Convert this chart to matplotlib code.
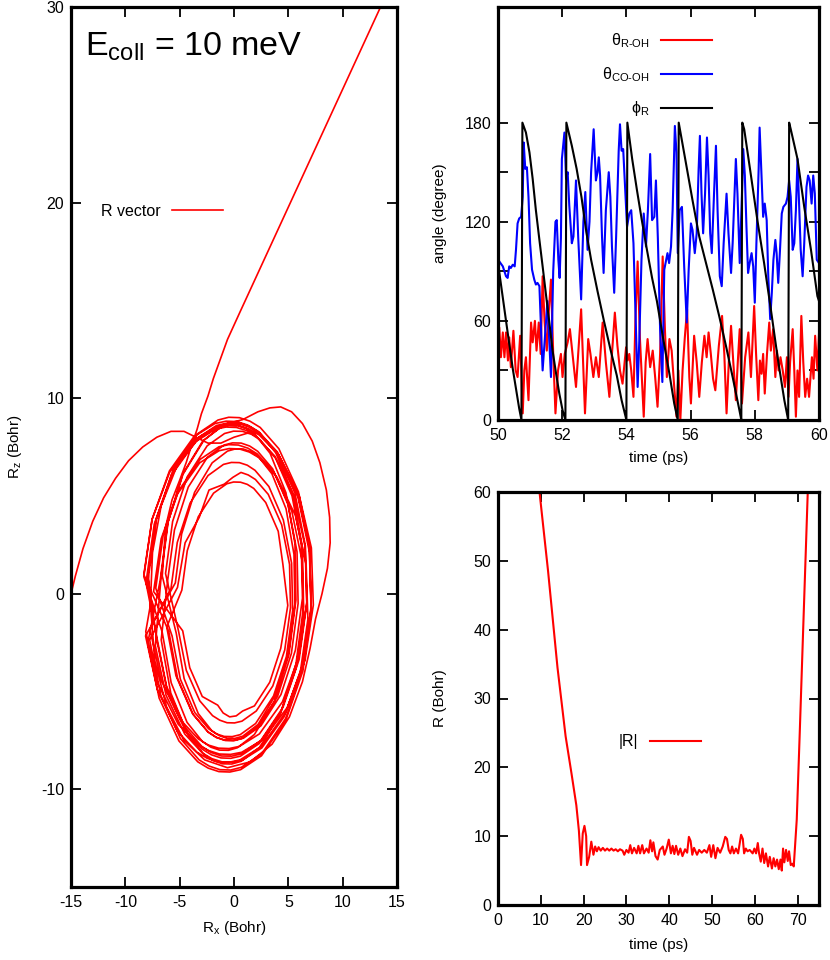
import numpy as np
import matplotlib.pyplot as plt

plt.rcParams['font.family'] = ['Liberation Sans', 'DejaVu Sans']
plt.rcParams['mathtext.fontset'] = 'custom'
plt.rcParams['mathtext.rm'] = 'Liberation Sans'
plt.rcParams['mathtext.it'] = 'Liberation Sans:italic'
plt.rcParams['mathtext.sf'] = 'Liberation Sans'
plt.rcParams['axes.unicode_minus'] = False

# ---- R vector trajectory (Rx, Rz) in Bohr ----
entry_path = np.array([(-15.3, -0.7), (-14.6, 0.9), (-13.9, 2.3), (-13.0, 3.7), (-12.0, 4.9),
                       (-10.9, 5.9), (-9.7, 6.8), (-8.4, 7.5), (-7.1, 8.0), (-5.8, 8.3),
                       (-4.6, 8.3), (-3.5, 8.0), (-2.4, 7.7), (-1.2, 7.7), (0.0, 8.0), (1.2, 8.2)])
first_lap = np.array([(2.33, 8.23), (3.94, 7.21), (5.61, 5.13), (6.57, 2.45), (6.7, -0.5),
                      (5.99, -3.37), (4.51, -5.81), (2.46, -7.51), (0.69, -8.19), (-0.22, -8.31),
                      (-1.15, -8.3), (-2.06, -8.13), (-2.93, -7.83), (-4.54, -6.81),
                      (-6.21, -4.73), (-7.17, -2.05)])
# each lap listed from its top point, clockwise
loops = [
    np.array([(0.39, 8.7), (1.38, 8.52), (2.33, 8.2), (4.07, 7.13), (5.89, 4.94), (6.94, 2.13),
              (7.1, -0.96), (6.34, -3.95), (4.75, -6.5), (2.53, -8.29), (0.61, -9.0),
              (-0.38, -9.12), (-1.39, -9.1), (-2.38, -8.92), (-3.33, -8.6), (-5.07, -7.53),
              (-6.89, -5.34), (-7.94, -2.53), (-8.1, 0.56), (-7.34, 3.55), (-5.75, 6.1),
              (-3.53, 7.89), (-1.61, 8.6), (-0.62, 8.72)]),
    np.array([(0.67, 8.7), (1.52, 8.53), (2.35, 8.23), (3.85, 7.2), (5.42, 5.08), (6.3, 2.36),
              (6.4, -0.66), (5.7, -3.6), (4.3, -6.1), (2.35, -7.86), (0.67, -8.57),
              (-0.2, -8.71), (-1.07, -8.7), (-1.92, -8.53), (-2.75, -8.23), (-4.25, -7.2),
              (-5.82, -5.08), (-6.7, -2.36), (-6.8, 0.66), (-6.1, 3.6), (-4.7, 6.1),
              (-2.75, 7.86), (-1.07, 8.57), (-0.2, 8.71)]),
    np.array([(0.66, 7.7), (1.44, 7.55), (2.18, 7.28), (3.56, 6.38), (4.99, 4.53), (5.8, 2.14),
              (5.9, -0.5), (5.28, -3.06), (4.01, -5.25), (2.24, -6.78), (0.72, -7.4),
              (-0.06, -7.51), (-0.86, -7.5), (-1.64, -7.35), (-2.38, -7.08), (-3.76, -6.18),
              (-5.19, -4.33), (-6.0, -1.94), (-6.1, 0.7), (-5.48, 3.26), (-4.21, 5.45),
              (-2.44, 6.98), (-0.92, 7.6), (-0.14, 7.71)]),
    np.array([(0.34, 8.6), (1.35, 8.42), (2.33, 8.11), (4.13, 7.08), (6.01, 5.0), (7.12, 2.34),
              (7.3, -0.58), (6.54, -3.4), (4.93, -5.8), (2.67, -7.46), (0.71, -8.11),
              (-0.31, -8.22), (-1.34, -8.2), (-2.35, -8.02), (-3.33, -7.71), (-5.13, -6.68),
              (-7.01, -4.6), (-8.12, -1.94), (-8.3, 0.98), (-7.54, 3.8), (-5.93, 6.2),
              (-3.67, 7.86), (-1.71, 8.51), (-0.69, 8.62)]),
    np.array([(0.8, 8.9), (2.2, 9.3), (3.3, 9.5), (4.3, 9.55), (5.3, 9.3), (6.3, 8.7), (7.2, 7.8),
              (7.9, 6.7), (8.5, 5.3), (8.8, 3.9), (8.85, 2.6), (8.6, 1.3), (8.1, 0.0),
              (7.5, -1.3), (7.0, -2.8), (6.3, -4.5), (5.1, -6.3), (3.5, -7.7), (1.5, -8.6),
              (-0.6, -8.9), (-2.7, -8.5), (-4.6, -7.5), (-6.2, -5.8), (-7.3, -3.4),
              (-7.7, -0.6), (-7.5, 2.1), (-6.7, 4.5), (-5.2, 6.6), (-3.3, 7.9), (-1.3, 8.6)]),
    np.array([(0.22, 8.5), (1.17, 8.34), (2.08, 8.03), (3.76, 7.03), (5.52, 5.01), (6.54, 2.41),
              (6.7, -0.43), (5.98, -3.19), (4.46, -5.53), (2.34, -7.17), (0.5, -7.81),
              (-0.45, -7.92), (-1.42, -7.9), (-2.37, -7.74), (-3.28, -7.43), (-4.96, -6.43),
              (-6.72, -4.41), (-7.74, -1.81), (-7.9, 1.03), (-7.18, 3.79), (-5.66, 6.13),
              (-3.54, 7.77), (-1.7, 8.41), (-0.75, 8.52)]),
    np.array([(0.5, 6.7), (1.22, 6.57), (1.93, 6.31), (3.21, 5.48), (4.54, 3.77), (5.3, 1.56),
              (5.4, -0.86), (4.82, -3.22), (3.64, -5.23), (1.99, -6.64), (0.57, -7.21),
              (-0.16, -7.31), (-0.9, -7.3), (-1.62, -7.17), (-2.33, -6.91), (-3.61, -6.08),
              (-4.94, -4.37), (-5.7, -2.16), (-5.8, 0.26), (-5.22, 2.62), (-4.04, 4.63),
              (-2.39, 6.04), (-0.97, 6.61), (-0.24, 6.71)]),
    np.array([(0.4, 7.6), (1.28, 7.44), (2.13, 7.15), (3.69, 6.19), (5.32, 4.22), (6.26, 1.7),
              (6.4, -1.08), (5.72, -3.78), (4.3, -6.06), (2.31, -7.67), (0.59, -8.31),
              (-0.3, -8.42), (-1.2, -8.4), (-2.08, -8.24), (-2.93, -7.95), (-4.49, -6.99),
              (-6.12, -5.02), (-7.06, -2.5), (-7.2, 0.28), (-6.52, 2.98), (-5.1, 5.26),
              (-3.11, 6.87), (-1.39, 7.51), (-0.5, 7.62)]),
    np.array([(0.5, 9.0), (1.47, 8.82), (2.41, 8.5), (4.13, 7.41), (5.93, 5.21), (6.96, 2.37),
              (7.1, -0.75), (6.34, -3.79), (4.77, -6.37), (2.57, -8.17), (0.67, -8.88),
              (-0.31, -9.02), (-1.3, -9.0), (-2.27, -8.82), (-3.21, -8.5), (-4.93, -7.41),
              (-6.73, -5.21), (-7.76, -2.37), (-7.9, 0.75), (-7.14, 3.79), (-5.57, 6.37),
              (-3.37, 8.17), (-1.47, 8.88), (-0.49, 9.02)]),
    np.array([(0.64, 6.2), (1.31, 6.07), (1.97, 5.84), (3.15, 5.08), (4.39, 3.52), (5.11, 1.5),
              (5.2, -0.72), (4.67, -2.88), (3.57, -4.72), (2.05, -6.0), (0.73, -6.52),
              (0.05, -6.61), (-0.64, -6.6), (-1.31, -6.47), (-1.97, -6.24), (-3.15, -5.48),
              (-4.39, -3.92), (-5.11, -1.9), (-5.2, 0.32), (-4.5, 2.6), (-3.2, 3.9),
              (-2.3, 5.3), (-0.9, 5.6), (-0.1, 5.95)]),
    np.array([(0.79, 8.3), (1.61, 8.15), (2.39, 7.87), (3.83, 6.92), (5.34, 5.0), (6.19, 2.51),
              (6.3, -0.23), (5.65, -2.89), (4.32, -5.16), (2.47, -6.76), (0.87, -7.39),
              (0.05, -7.51), (-0.79, -7.5), (-1.61, -7.35), (-2.39, -7.07), (-3.83, -6.12),
              (-5.34, -4.2), (-6.19, -1.71), (-6.3, 1.03), (-5.65, 3.69), (-4.32, 5.96),
              (-2.47, 7.56), (-0.87, 8.19), (-0.05, 8.31)]),
    np.array([(0.6, 5.7), (1.22, 5.59), (1.82, 5.38), (2.92, 4.66), (4.07, 3.19), (4.5, 1.5),
              (4.95, -0.6), (4.3, -2.8), (3.29, -4.53), (1.88, -5.74), (0.8, -6.0),
              (0.2, -6.25), (-0.4, -6.3), (-1.0, -6.1), (-1.5, -5.7), (-2.92, -5.26),
              (-4.07, -3.79), (-4.72, -1.9), (-4.8, 0.18), (-4.3, 2.2), (-3.29, 3.93),
              (-1.88, 5.14), (-0.66, 5.62), (-0.04, 5.71)]),
    np.array([(0.5, 7.4), (1.42, 7.24), (2.31, 6.95), (3.94, 5.97), (5.65, 4.0), (6.64, 1.47),
              (6.8, -1.31), (6.1, -4.01), (4.63, -6.28), (2.56, -7.89), (0.77, -8.51),
              (-0.16, -8.62), (-1.1, -8.6), (-2.02, -8.44), (-2.91, -8.15), (-4.54, -7.17),
              (-6.25, -5.2), (-7.24, -2.67), (-7.4, 0.11), (-6.7, 2.81), (-5.23, 5.08),
              (-3.16, 6.69), (-1.37, 7.31), (-0.44, 7.42)]),
    np.array([(0.33, 8.6), (1.13, 8.45), (1.91, 8.16), (3.32, 7.18), (4.78, 5.16), (5.61, 2.56),
              (5.7, -0.32), (5.05, -3.12), (3.72, -5.52), (1.88, -7.2), (0.31, -7.88),
              (-0.51, -8.01), (-1.33, -8.0), (-2.13, -7.85), (-2.91, -7.56), (-4.32, -6.58),
              (-5.78, -4.56), (-6.61, -1.96), (-6.7, 0.92), (-6.05, 3.72), (-4.72, 6.12),
              (-2.88, 7.8), (-1.31, 8.48), (-0.49, 8.61)]),
    np.array([(0.27, 8.8), (1.27, 8.62), (2.23, 8.3), (4.0, 7.24), (5.86, 5.1), (6.94, 2.36),
              (7.1, -0.67), (6.34, -3.6), (4.74, -6.08), (2.5, -7.82), (0.55, -8.5),
              (-0.45, -8.62), (-1.47, -8.6), (-2.47, -8.42), (-3.43, -8.1), (-5.2, -7.04),
              (-7.06, -4.9), (-8.14, -2.16), (-8.3, 0.87), (-7.54, 3.8), (-5.94, 6.28),
              (-3.7, 8.02), (-1.75, 8.7), (-0.73, 8.82)]),
    np.array([(0.84, 7.4), (1.55, 7.26), (2.24, 7.01), (3.49, 6.13), (4.79, 4.34), (5.52, 2.01),
              (5.6, -0.55), (5.02, -3.05), (3.83, -5.18), (2.21, -6.69), (0.8, -7.29),
              (0.09, -7.4), (-0.64, -7.4), (-1.35, -7.26), (-2.04, -7.01), (-3.29, -6.13),
              (-4.59, -4.34), (-5.32, -2.01), (-5.4, 0.55), (-4.82, 3.05), (-3.63, 5.18),
              (-2.01, 6.69), (-0.6, 7.29), (0.11, 7.4)]),
]
exit_path = np.array([(-6.6, 0.9), (-6.3, 3.4), (-5.7, 4.8), (-5.0, 5.8), (-4.4, 6.7),
                      (-3.9, 7.6), (-3.4, 8.4), (-3.0, 9.2), (-2.4, 10.1), (-1.9, 11.0),
                      (-0.6, 13.0), (0.55, 14.4), (13.9, 30.5)])

# ---- angles vs time (ps, degree) ----
theta_r_oh = np.array([
    (50.0, 40), (50.04, 56), (50.09, 38), (50.15, 53), (50.2, 38), (50.25, 53), (50.31, 36),
    (50.35, 50), (50.4, 32), (50.48, 54), (50.55, 30), (50.61, 26), (50.69, 51), (50.77, 4),
    (50.82, 30), (50.87, 38), (50.95, 12), (51.03, 59), (51.08, 47), (51.15, 60), (51.2, 42),
    (51.27, 59), (51.33, 40), (51.39, 87), (51.45, 60), (51.52, 42), (51.58, 65), (51.65, 85),
    (51.72, 40), (51.79, 4), (51.87, 30), (51.96, 40), (52.01, 26), (52.08, 40), (52.17, 47),
    (52.24, 55), (52.32, 40), (52.43, 20), (52.53, 50), (52.59, 67), (52.65, 35), (52.71, 4),
    (52.81, 49), (52.88, 40), (52.97, 26), (53.05, 38), (53.14, 26), (53.26, 59), (53.36, 35),
    (53.47, 14), (53.55, 40), (53.64, 65), (53.72, 45), (53.8, 30), (53.88, 22), (53.99, 44),
    (54.04, 36), (54.09, 40), (54.15, 30), (54.22, 14), (54.28, 60), (54.35, 96), (54.42, 50),
    (54.54, 2), (54.6, 35), (54.66, 49), (54.74, 32), (54.82, 42), (54.9, 25), (54.97, 8),
    (55.05, 40), (55.13, 99), (55.2, 55), (55.26, 26), (55.34, 49), (55.41, 42), (55.49, 20),
    (55.56, 2), (55.62, 30), (55.68, 0), (55.75, 30), (55.82, 50), (55.89, 67), (55.96, 26),
    (56.01, 10), (56.11, 51), (56.19, 35), (56.27, 14), (56.35, 35), (56.43, 51), (56.5, 38),
    (56.56, 53), (56.63, 40), (56.7, 25), (56.77, 18), (56.88, 45), (56.98, 63), (57.05, 40),
    (57.12, 4), (57.19, 35), (57.26, 57), (57.33, 35), (57.41, 12), (57.47, 35), (57.53, 55),
    (57.6, 10), (57.7, 38), (57.8, 53), (57.88, 26), (57.98, 69), (58.04, 40), (58.11, 12),
    (58.16, 36), (58.21, 28), (58.26, 40), (58.31, 16), (58.38, 40), (58.45, 59), (58.5, 42),
    (58.57, 55), (58.64, 26), (58.69, 42), (58.74, 30), (58.8, 38), (58.87, 30), (58.94, 20),
    (59.0, 38), (59.05, 14), (59.1, 35), (59.18, 55), (59.23, 30), (59.28, 2), (59.33, 30),
    (59.38, 14), (59.45, 63), (59.51, 35), (59.57, 14), (59.63, 25), (59.69, 14), (59.78, 38),
    (59.83, 25), (59.88, 51), (59.95, 30), (60.0, 52)])

theta_co_oh = np.array([
    (50.0, 97), (50.04, 96), (50.15, 93), (50.25, 87), (50.3, 86), (50.35, 93), (50.4, 92),
    (50.46, 94), (50.52, 93), (50.56, 103), (50.61, 119), (50.66, 122), (50.72, 123),
    (50.77, 135), (50.8, 168), (50.85, 152), (50.9, 153), (50.95, 135), (51.0, 107),
    (51.06, 91), (51.13, 85), (51.18, 82), (51.23, 83), (51.29, 81), (51.39, 30), (51.54, 72),
    (51.65, 26), (51.72, 90), (51.79, 120), (51.83, 121), (51.88, 97), (51.92, 86),
    (51.96, 110), (51.99, 158), (52.07, 174), (52.12, 146), (52.17, 150), (52.22, 130),
    (52.3, 107), (52.35, 111), (52.43, 145), (52.5, 110), (52.59, 73), (52.66, 120),
    (52.72, 138), (52.79, 103), (52.85, 120), (52.9, 150), (52.98, 176), (53.05, 145),
    (53.1, 150), (53.14, 159), (53.18, 148), (53.24, 111), (53.29, 89), (53.36, 127),
    (53.45, 150), (53.5, 135), (53.55, 105), (53.62, 77), (53.68, 111), (53.76, 163),
    (53.8, 179), (53.85, 163), (53.9, 164), (53.97, 137), (54.02, 117), (54.09, 125),
    (54.15, 127), (54.22, 107), (54.28, 67), (54.35, 20), (54.4, 47), (54.47, 97),
    (54.54, 125), (54.61, 105), (54.67, 127), (54.74, 161), (54.8, 121), (54.87, 123),
    (54.92, 145), (54.98, 110), (55.05, 55), (55.12, 23), (55.18, 91), (55.28, 101),
    (55.33, 95), (55.39, 105), (55.44, 127), (55.51, 178), (55.56, 162), (55.6, 101),
    (55.66, 127), (55.73, 129), (55.8, 93), (55.88, 59), (55.94, 91), (56.01, 119),
    (56.06, 115), (56.13, 101), (56.19, 113), (56.25, 152), (56.29, 172), (56.34, 137),
    (56.39, 113), (56.45, 137), (56.51, 171), (56.56, 148), (56.61, 113), (56.66, 101),
    (56.73, 137), (56.79, 166), (56.84, 127), (56.91, 87), (56.97, 81), (57.03, 107),
    (57.12, 137), (57.18, 113), (57.26, 89), (57.31, 107), (57.41, 158), (57.46, 137),
    (57.53, 95), (57.6, 137), (57.64, 164), (57.69, 148), (57.74, 117), (57.79, 89),
    (57.84, 95), (57.9, 101), (57.95, 93), (58.0, 71), (58.05, 107), (58.12, 152),
    (58.15, 177), (58.21, 148), (58.26, 123), (58.31, 131), (58.37, 121), (58.42, 87),
    (58.48, 61), (58.53, 77), (58.58, 97), (58.64, 109), (58.68, 101), (58.73, 83),
    (58.78, 101), (58.84, 125), (58.89, 129), (58.97, 131), (59.02, 135), (59.07, 145),
    (59.12, 135), (59.18, 103), (59.23, 107), (59.28, 127), (59.33, 158), (59.38, 131),
    (59.43, 103), (59.49, 87), (59.54, 107), (59.61, 141), (59.66, 148), (59.71, 145),
    (59.77, 131), (59.82, 148), (59.87, 137), (59.93, 97), (60.0, 95)])

phi_r = np.array([
    (50.0, 95), (50.25, 60), (50.46, 31), (50.66, 7), (50.73, 0), (50.76, 180), (50.87, 174),
    (50.98, 162), (51.08, 146), (51.18, 127), (51.29, 109), (51.39, 93), (51.5, 75),
    (51.6, 59), (51.7, 42), (51.81, 28), (51.91, 16), (52.01, 6), (52.1, 0), (52.13, 180),
    (52.3, 166), (52.45, 152), (52.6, 135), (52.75, 114), (52.9, 97), (53.1, 78), (53.3, 60),
    (53.5, 43), (53.7, 27), (53.85, 12), (54.0, 0), (54.03, 180), (54.18, 158), (54.33, 139),
    (54.48, 121), (54.64, 103), (54.8, 86), (54.95, 72), (55.13, 51), (55.34, 28),
    (55.49, 10), (55.6, 0), (55.63, 180), (55.85, 156), (56.06, 133), (56.27, 111),
    (56.48, 95), (56.69, 79), (56.89, 63), (57.1, 45), (57.31, 26), (57.52, 6), (57.58, 0),
    (57.61, 180), (57.67, 176), (57.88, 148), (58.08, 121), (58.29, 95), (58.5, 67),
    (58.71, 38), (58.92, 12), (59.04, 0), (59.07, 180), (59.12, 176), (59.33, 158),
    (59.54, 129), (59.75, 103), (59.95, 75), (60.0, 72)])

# ---- |R| vs time (ps, Bohr) ----
r_abs = np.array([
    (9.7, 60), (11.7, 48.5), (13.9, 34.5), (15.8, 24.5), (17.2, 19.0), (18.3, 14.5),
    (18.9, 10.8), (19.4, 5.8), (19.8, 10.4), (20.2, 11.5), (20.6, 10.0), (20.8, 5.8),
    (21.3, 7.0), (21.8, 9.2), (22.3, 7.3), (22.7, 8.5), (23.1, 7.8), (23.5, 8.4), (24.0, 7.9),
    (24.5, 8.3), (25.0, 7.9), (25.5, 8.2), (26.0, 7.9), (26.5, 8.2), (27.0, 7.9), (27.5, 8.1),
    (28.0, 7.8), (28.5, 8.1), (29.1, 7.9), (29.5, 7.3), (30.0, 8.0), (30.5, 7.6), (30.9, 8.7),
    (31.3, 7.5), (31.8, 8.3), (32.4, 7.5), (32.8, 8.6), (33.2, 7.5), (33.7, 8.7), (34.1, 7.5),
    (34.7, 8.2), (35.2, 7.6), (35.6, 9.4), (36.0, 7.8), (36.3, 9.1), (36.8, 7.1), (37.3, 6.6),
    (37.8, 8.0), (38.5, 8.5), (38.9, 7.3), (39.4, 8.2), (39.9, 9.5), (40.4, 7.5), (40.8, 8.6),
    (41.2, 7.4), (41.6, 8.6), (42.1, 7.3), (42.6, 8.2), (43.1, 7.1), (43.7, 8.1), (44.2, 7.6),
    (44.6, 9.9), (45.0, 9.3), (45.4, 7.3), (45.8, 8.3), (46.5, 7.3), (47.0, 8.0), (47.6, 7.6),
    (48.2, 8.0), (48.8, 7.6), (49.4, 8.7), (49.8, 7.0), (50.3, 8.7), (50.8, 6.8), (51.3, 8.3),
    (51.9, 7.6), (52.5, 8.5), (53.1, 9.9), (53.5, 9.6), (53.9, 8.0), (54.3, 7.5), (54.7, 8.5),
    (55.1, 7.5), (55.6, 8.2), (56.1, 7.5), (56.8, 10.2), (57.2, 9.6), (57.5, 7.5), (57.9, 8.2),
    (58.3, 7.8), (58.8, 8.0), (59.5, 7.5), (59.9, 8.2), (60.3, 7.5), (60.7, 9.0), (61.0, 7.5),
    (61.4, 6.3), (61.8, 8.2), (62.2, 6.1), (62.6, 7.5), (63.1, 5.6), (63.5, 7.0), (64.0, 5.3),
    (64.4, 6.8), (64.8, 5.6), (65.2, 6.6), (65.6, 5.2), (66.0, 6.6), (66.3, 5.0), (66.6, 8.2),
    (66.9, 6.2), (67.3, 8.0), (67.7, 6.4), (68.0, 7.8), (68.4, 5.8), (68.8, 6.0), (69.1, 5.6),
    (69.8, 12.4), (70.5, 25.0), (71.3, 40.0), (72.0, 53.0), (72.4, 60.5)])

RED, BLUE, BLACK = '#ff0000', '#0000ff', '#000000'
FS = 11.5
LW = 1.5


def style(ax):
    for s in ax.spines.values():
        s.set_linewidth(2.3)
    ax.tick_params(direction='in', length=7, width=1.3, top=True, right=True,
                   labelsize=FS, colors='black')
    ax.tick_params(axis='x', pad=6)
    ax.tick_params(axis='y', pad=5)


def label_axes(ax, xlabel, ylabel, xy, yx):
    ax.set_xlabel(xlabel, fontsize=11)
    ax.set_ylabel(ylabel, fontsize=11)
    ax.xaxis.set_label_coords(0.5, xy)
    ax.yaxis.set_label_coords(yx, 0.5)
    ax.xaxis.label.set_va('center')
    ax.yaxis.label.set_va('center')


def gp_legend(ax, anchor, spacing=0.5):
    ax.legend(loc='center right', bbox_to_anchor=anchor, frameon=False, markerfirst=False,
              handlelength=3.2, handletextpad=0.7, borderpad=0, borderaxespad=0,
              labelspacing=spacing, fontsize=FS)


fig = plt.figure(figsize=(8.3, 9.6), dpi=100)

# left: R vector trajectory
ax1 = fig.add_axes([71 / 830, 1 - 887 / 960, 326 / 830, 880 / 960])
# laps are stored from the top; start each one on the left side so that
# the hand-over between laps falls where the path runs vertically
laps = [np.roll(lp, 6, axis=0) for lp in loops]
traj = np.concatenate([entry_path, first_lap] + laps + [exit_path])
ax1.plot(traj[:, 0], traj[:, 1], color=RED, lw=1.2, label='R vector')
ax1.set_xlim(-15, 15)
ax1.set_ylim(-15, 30)
ax1.set_xticks(np.arange(-15, 16, 5))
ax1.set_yticks([-10, 0, 10, 20, 30])
style(ax1)
label_axes(ax1, r'R$_\mathrm{x}$ (Bohr)', r'R$_\mathrm{z}$ (Bohr)', -0.047, -0.172)
ax1.text(0.043, 0.945, r'E$_\mathrm{coll}$ = 10 meV', transform=ax1.transAxes,
         fontsize=24.5, va='baseline', ha='left')
gp_legend(ax1, (0.466, 0.768))

# top right: angles
ax2 = fig.add_axes([498 / 830, 1 - 420 / 960, 321 / 830, 413 / 960])
ax2.plot(theta_r_oh[:, 0], theta_r_oh[:, 1], color=RED, lw=LW, label=r'$\mathrm{θ_{R‐OH}}$')
ax2.plot(theta_co_oh[:, 0], theta_co_oh[:, 1], color=BLUE, lw=LW, label=r'$\mathrm{θ_{CO‐OH}}$')
ax2.plot(phi_r[:, 0], phi_r[:, 1], color=BLACK, lw=LW, label=r'$\mathrm{ϕ_R}$')
ax2.set_xlim(50, 60)
ax2.set_ylim(0, 250)
ax2.set_xticks(np.arange(50, 61, 2))
ax2.set_yticks(np.arange(0, 181, 30))
ax2.set_yticklabels(['0', '', '60', '', '120', '', '180'])
style(ax2)
label_axes(ax2, 'time (ps)', 'angle (degree)', -0.092, -0.181)
gp_legend(ax2, (0.667, 0.836), spacing=0.95)

# bottom right: |R|
ax3 = fig.add_axes([498 / 830, 1 - 905 / 960, 321 / 830, 413 / 960])
ax3.plot(r_abs[:, 0], r_abs[:, 1], color=RED, lw=LW, label='|R|')
ax3.set_xlim(0, 75)
ax3.set_ylim(0, 60)
ax3.set_xticks(np.arange(0, 71, 10))
ax3.set_yticks(np.arange(0, 61, 10))
style(ax3)
label_axes(ax3, 'time (ps)', 'R (Bohr)', -0.097, -0.181)
gp_legend(ax3, (0.632, 0.395))

fig.savefig('out.png', dpi=100)
